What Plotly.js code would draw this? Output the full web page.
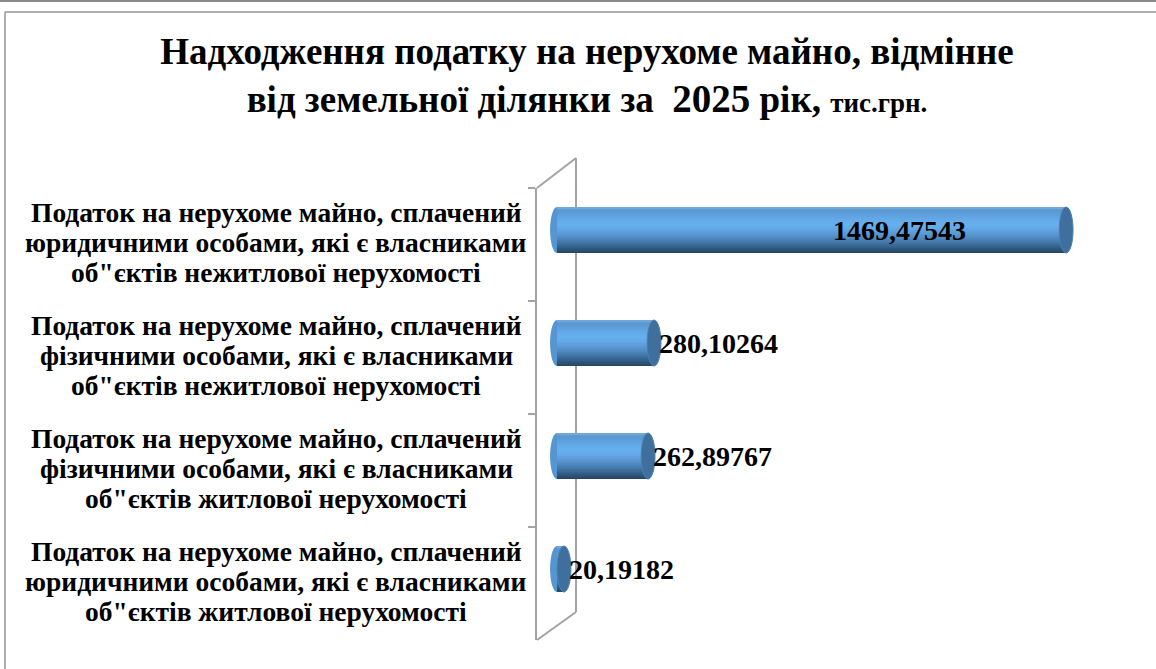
<!DOCTYPE html>
<html>
<head>
<meta charset="utf-8">
<script src="https://cdn.plot.ly/plotly-3.0.1.min.js"></script>
<style>
  html, body { margin: 0; padding: 0; background: #ffffff; }
  #chart { width: 1156px; height: 669px; }
</style>
</head>
<body>
<div id="chart"></div>
<script>
// ---- data ----
const categories = [
  'Податок на нерухоме майно, сплачений<br>юридичними особами, які є власниками<br>об"єктів нежитлової нерухомості',
  'Податок на нерухоме майно, сплачений<br>фізичними особами, які є власниками<br>об"єктів нежитлової нерухомості',
  'Податок на нерухоме майно, сплачений<br>фізичними особами, які є власниками<br>об"єктів житлової нерухомості',
  'Податок на нерухоме майно, сплачений<br>юридичними особами, які є власниками<br>об"єктів житлової нерухомості'
];
const values = [1469.47543, 280.10264, 262.89767, 20.19182];
const labelInside = [true, false, false, false];

// ---- layout geometry (pixels) ----
const W = 1156, H = 669;
const M = { l: 537, r: 36, t: 188, b: 29 };
const PW = W - M.l - M.r, PH = H - M.t - M.b;
const xRange = [-57.7, 1625];
const capHalf = 20;              // half width of cylinder end caps, in x units
const barH = 0.407;              // cylinder thickness in category units
const barStart = -0.3315;        // offset of top edge of cylinder from category centre
const px2x = p => (p - M.l) / PW;
const py2y = p => 1 - (p - M.t) / PH;

// stripe colours (top -> bottom) to give the cylinder shading
const stripeColors = [
  '#72a8d9', '#5a98d1', '#5b9bd6', '#5e9fdc', '#61a5e2', '#64aae8', '#66adeb',
  '#67afed', '#66acea', '#63a8e5', '#5fa1de', '#5a9ad5', '#5592cb', '#4f89c0',
  '#4880b4', '#4176a7', '#3a6b98', '#335f88', '#2c5378', '#28496a'
];
const N = stripeColors.length;
const sw = barH / N;

// each stripe runs from its own top edge down to the cylinder bottom; later ones overlay earlier ones
const traces = stripeColors.map((c, k) => ({
  type: 'bar',
  orientation: 'h',
  y: categories,
  x: values,
  base: 0,
  width: barH - k * sw,
  offset: barStart + k * sw,
  marker: { color: c, line: { width: 0 } },
  hoverinfo: 'skip',
  showlegend: false
}));

const shapes = [];
// outer frame lines
shapes.push({ type: 'line', xref: 'paper', yref: 'paper', x0: px2x(0), x1: px2x(W), y0: py2y(1), y1: py2y(1), line: { color: '#8a8a8a', width: 2 }, layer: 'below' });
shapes.push({ type: 'line', xref: 'paper', yref: 'paper', x0: px2x(5), x1: px2x(W), y0: py2y(12), y1: py2y(12), line: { color: '#959595', width: 1.5 }, layer: 'below' });
shapes.push({ type: 'line', xref: 'paper', yref: 'paper', x0: px2x(5), x1: px2x(5), y0: py2y(12), y1: py2y(H), line: { color: '#959595', width: 1.5 }, layer: 'below' });
// 3D wall lines
const wallCol = '#a3a3a3';
shapes.push({ type: 'line', xref: 'paper', yref: 'paper', x0: px2x(576), x1: px2x(576), y0: py2y(158), y1: py2y(612), line: { color: wallCol, width: 2 }, layer: 'below' });
shapes.push({ type: 'line', xref: 'paper', yref: 'paper', x0: 0, x1: px2x(576), y0: 1, y1: py2y(158), line: { color: wallCol, width: 2 }, layer: 'below' });
shapes.push({ type: 'line', xref: 'paper', yref: 'paper', x0: 0, x1: px2x(576), y0: 0, y1: py2y(612), line: { color: wallCol, width: 2 }, layer: 'below' });

values.forEach((v, i) => {
  // rounded left end of the cylinder
  shapes.push({ type: 'circle', xref: 'x', yref: 'y', x0: -capHalf, x1: capHalf,
    y0: i + barStart, y1: i + barStart + barH,
    fillcolor: '#5596d2', line: { width: 0 }, layer: 'below' });
  // dark right end cap
  shapes.push({ type: 'circle', xref: 'x', yref: 'y', x0: v - capHalf, x1: v + capHalf,
    y0: i + barStart, y1: i + barStart + barH,
    fillcolor: '#3f6f9c', line: { color: '#4c80b0', width: 1 }, layer: 'above' });
});

const serif = 'Liberation Serif, Times New Roman, serif';
const labelFont = { family: serif, size: 27.5, color: '#000', weight: 'bold' };
const valueFont = { family: serif, size: 28, color: '#000', weight: 'bold' };
const annotations = [];
const lineGap = 30; // px between category label lines
categories.forEach((c, i) => {
  const lines = c.split('<br>');
  lines.forEach((ln, j) => {
    annotations.push({
      xref: 'paper', yref: 'y', x: px2x(276), y: i, text: ln,
      showarrow: false, xanchor: 'center', yanchor: 'middle', align: 'center',
      yshift: ((lines.length - 1) / 2 - j) * lineGap + 2,
      font: labelFont
    });
  });
});
const centreShift = -(barStart + barH / 2) * (PH / 4); // pixels up
values.forEach((v, i) => {
  const txt = v.toFixed(5).replace('.', ',');
  annotations.push(labelInside[i] ? {
    xref: 'x', yref: 'y', x: v, y: i, text: txt, showarrow: false,
    xanchor: 'right', yanchor: 'middle', xshift: -98, yshift: centreShift, font: valueFont
  } : {
    xref: 'x', yref: 'y', x: v, y: i, text: txt, showarrow: false,
    xanchor: 'left', yanchor: 'middle', xshift: 3, yshift: centreShift, font: valueFont
  });
});

const layout = {
  width: W, height: H,
  margin: M,
  paper_bgcolor: '#ffffff',
  plot_bgcolor: 'rgba(0,0,0,0)',
  barmode: 'overlay',
  title: {
    text: 'Надходження податку на нерухоме майно, відмінне<br>від земельної ділянки за  <span style="font-size:39px">2025</span> рік, <span style="font-size:27px">тис.грн.</span>',
    font: { family: serif, size: 37, color: '#000', weight: 'bold' },
    xref: 'container', yref: 'container', x: 587 / W, xanchor: 'center',
    y: 1 - 64 / H, yanchor: 'top'
  },
  xaxis: { range: xRange, visible: false, fixedrange: true },
  yaxis: {
    type: 'category', range: [3.5, -0.5], showticklabels: false, showgrid: false,
    zeroline: false, showline: true, linecolor: wallCol, linewidth: 2,
    ticks: 'outside', tickson: 'boundaries', ticklen: 7, tickcolor: wallCol, tickwidth: 1.5,
    fixedrange: true
  },
  shapes: shapes,
  annotations: annotations,
  showlegend: false
};

Plotly.newPlot('chart', traces, layout, { displayModeBar: false, staticPlot: true });
</script>
</body>
</html>
